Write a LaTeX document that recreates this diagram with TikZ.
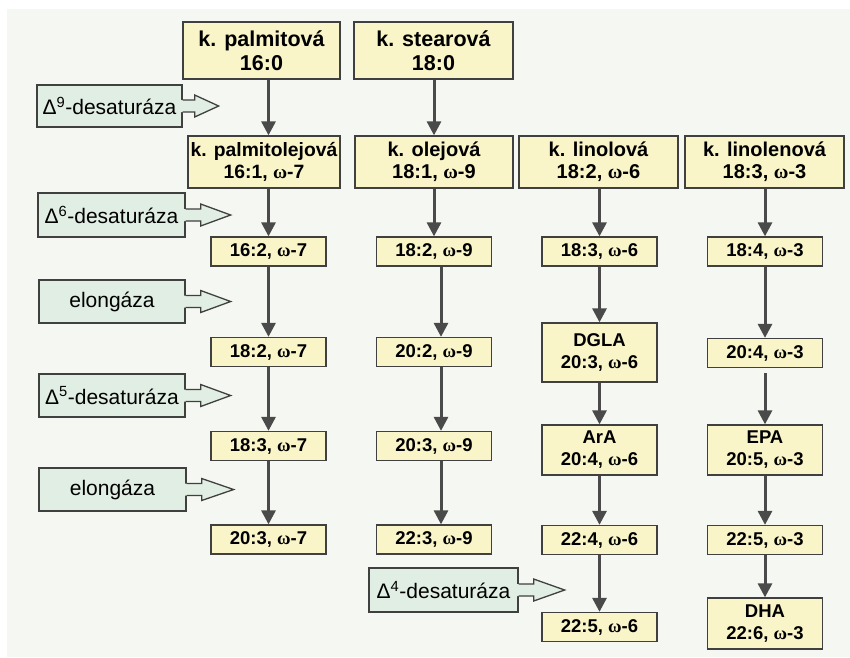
\documentclass[tikz,border=0pt]{standalone}
\usepackage{fontspec}
\setmainfont{Liberation Sans}
\newfontfamily\grk{Liberation Serif}
\usetikzlibrary{calc,arrows.meta}
\definecolor{bg}{HTML}{F5F8F2}
\definecolor{yel}{HTML}{F9F5C8}
\definecolor{grn}{HTML}{E1EEE3}
\definecolor{bordc}{HTML}{404040}
\definecolor{arrc}{HTML}{4A4A4A}
\newcommand\om{{\grk ω}}
\newcommand\enzarrow[3]{%
  \fill[grn] ($(#1.east)+(-1.5,-6)$) -- ($(#1.east)+(#2,-6)$) -- ($(#1.east)+(#2,-11)$) -- ($(#1.east)+(#3,0)$) -- ($(#1.east)+(#2,11)$) -- ($(#1.east)+(#2,6)$) -- ($(#1.east)+(-1.5,6)$) -- cycle;
  \draw[draw=bordc, line width=1.3pt, line join=miter] ($(#1.east)+(0,-6)$) -- ($(#1.east)+(#2,-6)$) -- ($(#1.east)+(#2,-11)$) -- ($(#1.east)+(#3,0)$) -- ($(#1.east)+(#2,11)$) -- ($(#1.east)+(#2,6)$) -- ($(#1.east)+(0,6)$);
}
\begin{document}
\begin{tikzpicture}[x=1pt,y=-1pt,
  fa/.style={draw=bordc, line width=1.3pt, fill=yel, inner sep=0pt, align=center, font=\bfseries\fontsize{18.5}{22}\selectfont},
  topbox/.style={fa, font=\bfseries\fontsize{21.5}{23.5}\selectfont, minimum height=57pt},
  namebox/.style={fa, font=\bfseries\fontsize{20}{22}\selectfont, minimum height=52pt},
  val/.style={fa, minimum width=115pt, minimum height=29pt},
  big/.style={fa, minimum width=115pt},
  enz/.style={draw=bordc, line width=1.3pt, fill=grn, inner sep=0pt, align=center, font=\fontsize{21}{24}\selectfont, minimum height=43pt},
  conn/.style={draw=arrc, line width=3pt, -{Triangle[length=14pt,width=14pt]}},
]
\useasboundingbox (0,0) rectangle (850,657);
\fill[white] (0,0) rectangle (850,657);
\fill[bg] (7,9) rectangle (850,657);

% top
\node[topbox, minimum width=157pt] (pal) at (261.5,50.5) {k. palmitová\\16:0};
\node[topbox, minimum width=159pt] (ste) at (433.5,50.5) {k. stearová\\18:0};
% row 2
\node[namebox, minimum width=152pt, font=\bfseries\fontsize{19.3}{22}\selectfont] (pol) at (264,162) {k. palmitolejová\\16:1, \om-7};
\node[namebox, minimum width=158pt] (ole) at (434,162) {k. olejová\\18:1, \om-9};
\node[namebox, minimum width=159pt] (lin) at (598.5,162) {k. linolová\\18:2, \om-6};
\node[namebox, minimum width=159pt] (lnn) at (764.5,162) {k. linolenová\\18:3, \om-3};
% row 3
\node[val] (a1) at (268.5,251.5) {16:2, \om-7};
\node[val] (b1) at (434,251.5) {18:2, \om-9};
\node[val] (c1) at (599.5,251.5) {18:3, \om-6};
\node[val] (d1) at (765,251.5) {18:4, \om-3};
% row 4
\node[val] (a2) at (268.5,352) {18:2, \om-7};
\node[val] (b2) at (434,352) {20:2, \om-9};
\node[big, minimum height=59pt] (c2) at (599.5,352.5) {DGLA\\20:3, \om-6};
\node[val] (d2) at (765,353) {20:4, \om-3};
% row 5
\node[val] (a3) at (268.5,446) {18:3, \om-7};
\node[val] (b3) at (434,446) {20:3, \om-9};
\node[big, minimum height=50pt] (c3) at (599.5,450) {ArA\\20:4, \om-6};
\node[big, minimum height=50pt] (d3) at (765,450) {EPA\\20:5, \om-3};
% row 6
\node[val] (a4) at (268.5,539.5) {20:3, \om-7};
\node[val] (b4) at (434,539.5) {22:3, \om-9};
\node[val] (c4) at (599.5,540) {22:4, \om-6};
\node[val] (d4) at (765,540) {22:5, \om-3};
% row 7
\node[val] (c5) at (599.5,627) {22:5, \om-6};
\node[big, minimum height=51pt] (d5) at (765,623.5) {DHA\\22:6, \om-3};

% enzymes
\node[enz, minimum width=145pt, minimum height=42pt] (e9) at (109.5,106) {Δ\textsuperscript{9}-desaturáza};
\node[enz, minimum width=147pt, minimum height=44pt] (e6) at (111.5,215) {Δ\textsuperscript{6}-desaturáza};
\node[enz, minimum width=146pt] (el1) at (112,301.5) {elongáza};
\node[enz, minimum width=146pt] (e5) at (112,395.5) {Δ\textsuperscript{5}-desaturáza};
\node[enz, minimum width=147pt] (el2) at (112.5,489.5) {elongáza};
\node[enz, minimum width=149pt, minimum height=44pt] (e4) at (443.5,590) {Δ\textsuperscript{4}-desaturáza};
\enzarrow{e9}{12}{36}
\enzarrow{e6}{15}{45}
\enzarrow{el1}{15}{45}
\enzarrow{e5}{15}{45}
\enzarrow{el2}{15}{47}
\enzarrow{e4}{15}{46}

% connectors
\draw[conn] (pal.south -| a1) -- (pol.north -| a1);
\draw[conn] (pol.south -| a1) -- (a1.north);
\draw[conn] (a1) -- (a2);
\draw[conn] (a2) -- (a3);
\draw[conn] (a3) -- (a4);
\draw[conn] (ste.south -| ole) -- (ole.north);
\draw[conn] (ole.south -| b1) -- (b1.north);
\draw[conn] ([xshift=7pt]b1.south) -- ([xshift=7pt]b2.north);
\draw[conn] ([xshift=7pt]b2.south) -- ([xshift=7pt]b3.north);
\draw[conn] ([xshift=7pt]b3.south) -- ([xshift=7pt]b4.north);
\draw[conn] (lin.south -| c1) -- (c1.north);
\draw[conn] (c1) -- (c2);
\draw[conn] (c2) -- (c3);
\draw[conn] (c3) -- (c4);
\draw[conn] (c4) -- (c5);
\draw[conn] (lnn.south -| d1) -- (d1.north);
\draw[conn] (d1) -- (d2);
\draw[conn, shorten <=5pt] (d2) -- (d3);
\draw[conn] (d3) -- (d4);
\draw[conn] (d4) -- (d5);
\end{tikzpicture}
\end{document}
